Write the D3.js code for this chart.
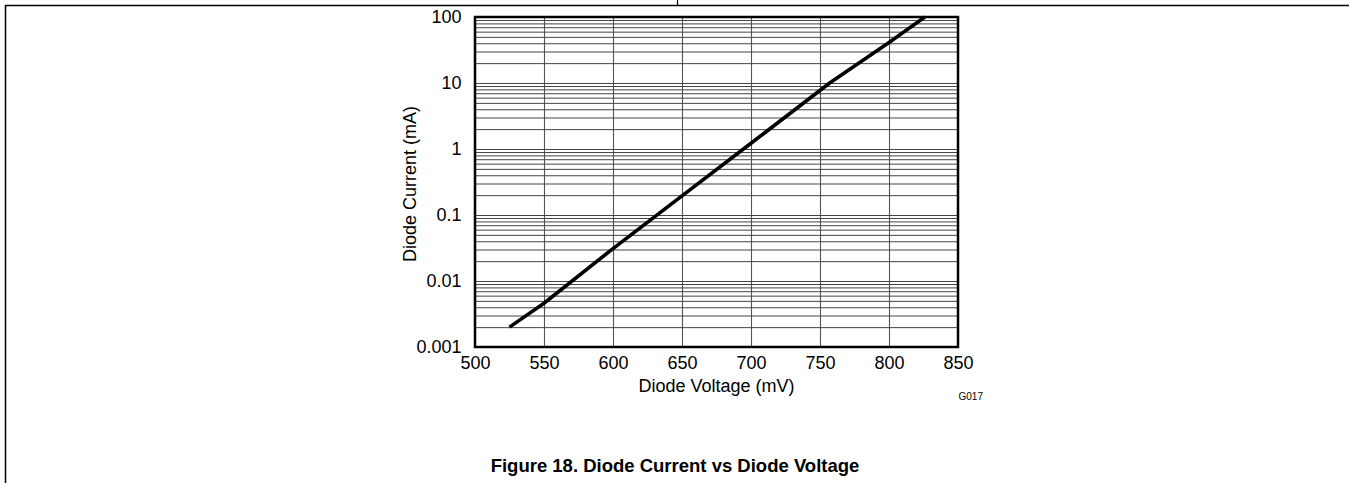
<!DOCTYPE html>
<html><head><meta charset="utf-8">
<script src="https://cdn.jsdelivr.net/npm/d3@7"></script>
<style>
html,body{margin:0;padding:0;background:#fff;}
svg{display:block;font-family:"Liberation Sans",Arial,sans-serif;}
</style></head>
<body>
<svg id="c" width="1349" height="483"></svg>
<script>
// Data
const voltage = [525, 550, 600, 650, 700, 757, 800, 826];          // mV
const current = [0.002, 0.0046, 0.031, 0.195, 1.22, 10, 41, 100];    // mA
const xTickValues = [500, 550, 600, 650, 700, 750, 800, 850];
const yTickValues = [0.001, 0.01, 0.1, 1, 10, 100];
const yTickLabels = ["0.001", "0.01", "0.1", "1", "10", "100"];
const xTitle = "Diode Voltage (mV)";
const yTitle = "Diode Current (mA)";
const figTitle = "Figure 18. Diode Current vs Diode Voltage";
const figCode = "G017";

const svg = d3.select("#c");
const L = 475, R = 958, T = 17, B = 347;
const x = d3.scaleLinear().domain([500, 850]).range([L, R]);
const y = d3.scaleLog().domain([0.001, 100]).range([B, T]);

// page border lines
svg.append("path").attr("d", "M5.5,483V5.5H1349").attr("fill", "none").attr("stroke", "#000").attr("stroke-width", 1.5);
svg.append("line").attr("x1", 677.5).attr("x2", 677.5).attr("y1", 0).attr("y2", 5.5).attr("stroke", "#000").attr("stroke-width", 1.2);

// grid
const minor = y.ticks(); // 1..9 per decade
svg.append("g").attr("transform", `translate(0,${B})`)
  .call(d3.axisBottom(x).tickValues(xTickValues).tickSize(-(B - T)).tickFormat(""))
  .call(g => g.select(".domain").remove())
  .call(g => g.selectAll("line").attr("stroke", "#555").attr("stroke-width", 1.1));
svg.append("g").attr("transform", `translate(${L},0)`)
  .call(d3.axisLeft(y).tickValues(minor).tickSize(-(R - L)).tickFormat(""))
  .call(g => g.select(".domain").remove())
  .call(g => g.selectAll("line").attr("stroke", "#444").attr("stroke-width", 1));

// frame
svg.append("rect").attr("x", L).attr("y", T).attr("width", R - L).attr("height", B - T)
  .attr("fill", "none").attr("stroke", "#000").attr("stroke-width", 2.5);

// curve
const line = d3.line().x((d, i) => x(voltage[i])).y((d, i) => y(current[i]));
svg.append("path").datum(voltage).attr("d", line)
  .attr("fill", "none").attr("stroke", "#000").attr("stroke-width", 3.6).attr("stroke-linejoin", "round");

// axis labels
svg.append("g").attr("transform", `translate(0,${B})`)
  .call(d3.axisBottom(x).tickValues(xTickValues).tickSize(0).tickPadding(9.5).tickFormat(d3.format("d")))
  .call(g => g.select(".domain").remove())
  .call(g => g.selectAll("text").attr("font-size", 18).attr("font-family", "Liberation Sans, Arial, sans-serif").attr("fill", "#000"));
svg.append("g").attr("transform", `translate(${L},0)`)
  .call(d3.axisLeft(y).tickValues(yTickValues).tickSize(0).tickPadding(13.5).tickFormat((d, i) => yTickLabels[i]))
  .call(g => g.select(".domain").remove())
  .call(g => g.selectAll("text").attr("font-size", 18).attr("font-family", "Liberation Sans, Arial, sans-serif").attr("fill", "#000"));

// titles
svg.append("text").attr("x", (L + R) / 2).attr("y", 392).attr("text-anchor", "middle")
  .attr("font-size", 18).text(xTitle);
svg.append("text").attr("transform", `translate(410,${(T + B) / 2 + 2}) rotate(-90)`).attr("text-anchor", "middle")
  .attr("font-size", 18).attr("dy", "0.35em").text(yTitle);
svg.append("text").attr("x", 983).attr("y", 400).attr("text-anchor", "end")
  .attr("font-size", 10).text(figCode);
svg.append("text").attr("x", 675).attr("y", 472).attr("text-anchor", "middle")
  .attr("font-size", 18.5).attr("font-weight", "bold").text(figTitle);
</script>
</body></html>
